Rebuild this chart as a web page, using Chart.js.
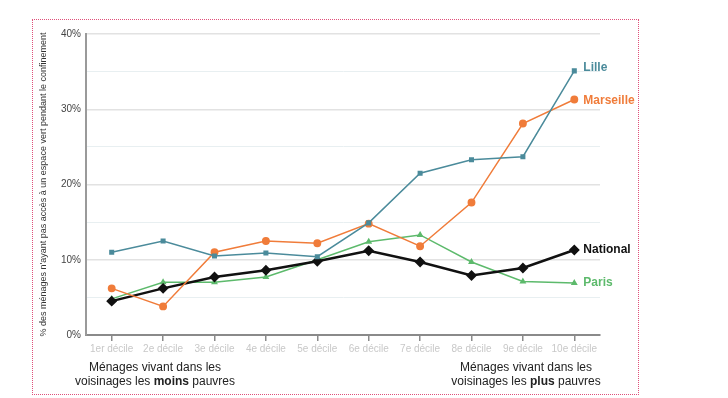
<!DOCTYPE html>
<html>
<head>
<meta charset="utf-8">
<script src="https://cdn.jsdelivr.net/npm/chart.js@4"></script>
<style>
  html, body { margin: 0; padding: 0; background: #fff; }
  #wrap { position: relative; width: 728px; height: 398px; }
  #frame { position: absolute; left: 32px; top: 19px; width: 605px; height: 374px;
           border: 1px dotted #e0507a; pointer-events: none; }
</style>
</head>
<body>
<div id="wrap">
  <canvas id="chart" width="728" height="398"></canvas>
  <div id="frame"></div>
</div>
<script>
// data (% of households without access to green space)
const deciles = ['1er décile', '2e décile', '3e décile', '4e décile', '5e décile',
                 '6e décile', '7e décile', '8e décile', '9e décile', '10e décile'];
const lille     = [11.0, 12.5, 10.5, 10.9, 10.4, 14.9, 21.5, 23.3, 23.7, 35.1];
const marseille = [6.2, 3.8, 11.0, 12.5, 12.2, 14.8, 11.8, 17.6, 28.1, 31.3];
const paris     = [4.8, 7.0, 7.0, 7.7, 10.0, 12.4, 13.3, 9.7, 7.1, 6.9];
const national  = [4.5, 6.2, 7.7, 8.6, 9.8, 11.2, 9.7, 7.9, 8.9, 11.3];
const yTicks = [0, 10, 20, 30, 40];

const FONT = 'Helvetica, Arial, "Liberation Sans", sans-serif';
const TEAL = '#4b8b9b', ORANGE = '#f07c3a', GREEN = '#5dba6c', BLACK = '#111';

// end-of-line labels + the two captions under the axis
const labelsPlugin = {
  id: 'labels',
  afterDatasetsDraw(chart) {
    const ctx = chart.ctx;
    ctx.save();
    ctx.font = 'bold 12px ' + FONT;
    ctx.textBaseline = 'middle';
    ctx.textAlign = 'left';
    const tweak = [-3, 1, 0, 0];
    chart.data.datasets.forEach((ds, i) => {
      const meta = chart.getDatasetMeta(i);
      const pt = meta.data[meta.data.length - 1];
      ctx.fillStyle = ds.labelColor;
      ctx.fillText(ds.label, pt.x + 9, pt.y + tweak[i]);
    });

    ctx.fillStyle = '#222';
    drawCaption(ctx, 155, 368, 'Ménages vivant dans les', 'voisinages les ', 'moins', ' pauvres');
    drawCaption(ctx, 526, 368, 'Ménages vivant dans les', 'voisinages les ', 'plus', ' pauvres');
    ctx.restore();
  }
};

function drawCaption(ctx, cx, y, line1, pre, bold, post) {
  ctx.font = '12px ' + FONT;
  ctx.textAlign = 'center';
  ctx.fillText(line1, cx, y);
  const wPre = ctx.measureText(pre).width;
  const wPost = ctx.measureText(post).width;
  ctx.font = 'bold 12px ' + FONT;
  const wBold = ctx.measureText(bold).width;
  let x = cx - (wPre + wBold + wPost) / 2;
  ctx.textAlign = 'left';
  ctx.font = '12px ' + FONT;
  ctx.fillText(pre, x, y + 14);
  x += wPre;
  ctx.font = 'bold 12px ' + FONT;
  ctx.fillText(bold, x, y + 14);
  x += wBold;
  ctx.font = '12px ' + FONT;
  ctx.fillText(post, x, y + 14);
}

const ctx = document.getElementById('chart').getContext('2d');
new Chart(ctx, {
  type: 'line',
  data: {
    labels: deciles,
    datasets: [
      { label: 'Lille', data: lille, borderColor: TEAL, backgroundColor: TEAL, labelColor: TEAL,
        borderWidth: 1.5, pointStyle: 'rect', pointRadius: 2.5 },
      { label: 'Marseille', data: marseille, borderColor: ORANGE, backgroundColor: ORANGE, labelColor: ORANGE,
        borderWidth: 1.5, pointStyle: 'circle', pointRadius: 3.2 },
      { label: 'National', data: national, borderColor: BLACK, backgroundColor: BLACK, labelColor: BLACK,
        borderWidth: 2.5, pointStyle: 'rectRot', pointRadius: 3.7 },
      { label: 'Paris', data: paris, borderColor: GREEN, backgroundColor: GREEN, labelColor: GREEN,
        borderWidth: 1.5, pointStyle: 'triangle', pointRadius: 2.5 }
    ]
  },
  options: {
    responsive: false,
    animation: false,
    layout: { padding: { left: 36, right: 128, top: 34, bottom: 0 } },
    plugins: { legend: { display: false }, tooltip: { enabled: false } },
    elements: { line: { tension: 0 }, point: { borderWidth: 0 } },
    scales: {
      x: {
        offset: true,
        afterFit(scale) { scale.height = 63; },
        border: { color: '#8a8a8a', width: 2 },
        grid: { drawOnChartArea: false, drawTicks: true, tickLength: 6, color: '#8a8a8a', lineWidth: 1.5 },
        ticks: { color: '#c8c8c8', font: { family: FONT, size: 10 }, padding: 2, maxRotation: 0 }
      },
      y: {
        min: 0, max: 40,
        afterFit(scale) { scale.width = 50; },
        afterBuildTicks(scale) {
          scale.ticks = [0, 5, 10, 15, 20, 25, 30, 35, 40].map(v => ({ value: v }));
        },
        border: { color: '#9a9a9a', width: 2 },
        grid: {
          drawTicks: false,
          color: c => (c.tick.value % 10 === 0 ? '#e2e2e2' : '#e8eff1'),
          lineWidth: c => (c.tick.value % 10 === 0 ? 1.5 : 1)
        },
        ticks: {
          color: '#444',
          font: { family: FONT, size: 10 },
          padding: 5,
          callback: v => (yTicks.includes(v) ? v + '%' : '')
        },
        title: {
          display: true,
          text: "% des ménages n'ayant pas accès à un espace vert pendant le confinement",
          color: '#333',
          font: { family: FONT, size: 9 },
          padding: { top: 2, bottom: 0 }
        }
      }
    }
  },
  plugins: [labelsPlugin]
});
</script>
</body>
</html>
